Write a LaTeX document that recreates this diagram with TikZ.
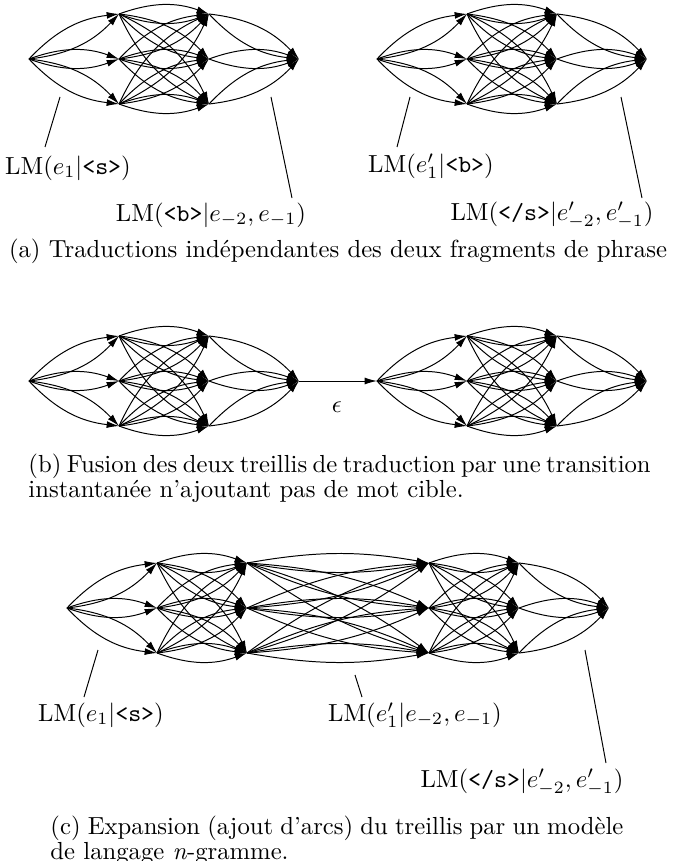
\documentclass[tikz,border=0pt]{standalone}
\usetikzlibrary{arrows.meta}
\tikzset{
  arc/.style={-{Latex[length=5pt,width=2.8pt]}, line width=0.4pt},
  lead/.style={line width=0.4pt},
  lab/.style={inner sep=0pt},
  capbox/.style={inner sep=0pt, align=left, anchor=north west, font=\fontsize{10}{10.4}\selectfont},
}
\newcommand{\dbl}[3]{\draw[arc] (#1) to[bend left=#3] (#2); \draw[arc] (#1) to[bend right=#3] (#2);}
\newcommand{\mylat}[3]{%
  \coordinate (#1s) at (#2,#3);
  \coordinate (#1e) at ({#2+270},#3);
  \foreach \i/\dy in {1/-45,2/0,3/45}{
    \coordinate (#1a\i) at ({#2+90},{#3+\dy});
    \coordinate (#1b\i) at ({#2+180},{#3+\dy});
  }
  \foreach \i in {1,2,3}{
    \dbl{#1s}{#1a\i}{20}
    \dbl{#1b\i}{#1e}{20}
    \foreach \j in {1,2,3}{\dbl{#1a\i}{#1b\j}{20}}
  }
}
\begin{document}
\begin{tikzpicture}[x=0.405pt,y=-0.405pt]
\useasboundingbox (0,0) rectangle (673,861);
% ---------- (a)
\mylat{L}{29}{59}
\mylat{R}{377}{59}
\node[lab] (a1) at (68,168) {$\mathrm{LM}(e_1|\mbox{\texttt{<s>}})$};
\node[lab] (a2) at (211,215) {$\mathrm{LM}(\mbox{\texttt{<b>}}|e_{-2},e_{-1})$};
\node[lab] (a3) at (431,166) {$\mathrm{LM}(e'_1|\mbox{\texttt{<b>}})$};
\node[lab] (a4) at (552,215) {$\mathrm{LM}(\mbox{\texttt{</s>}}|e'_{-2},e'_{-1})$};
\coordinate (pa1) at (60,97);  \coordinate (qa1) at (45,147);
\coordinate (pa2) at (271,97); \coordinate (qa2) at (292,198);
\coordinate (pa3) at (410,97); \coordinate (qa3) at (397,147);
\coordinate (pa4) at (621,97); \coordinate (qa4) at (642,198);
\draw[lead] (pa1) -- (qa1);
\draw[lead] (pa2) -- (qa2);
\draw[lead] (pa3) -- (qa3);
\draw[lead] (pa4) -- (qa4);
\node[lab] (capa) at (338,251) {(a) Traductions indépendantes des deux fragments de phrase};
% ---------- (b)
\mylat{P}{29}{381}
\mylat{Q}{377}{381}
\draw[arc] (Pe) -- (Qs);
\node[lab] (eps) at (337,407) {$\epsilon$};
\node[capbox] (capb) at (28,453) {\hbox to 252pt{(b) Fusion des deux treillis de traduction par une transition}\\instantanée n’ajoutant pas de mot cible.};
% ---------- (c)
\coordinate (Cs) at (67,608);
\coordinate (Ce) at (609,608);
\foreach \i/\dy in {1/-45,2/0,3/45}{
  \coordinate (Ca\i) at (157,{608+\dy});
  \coordinate (Cb\i) at (247,{608+\dy});
  \coordinate (Cc\i) at (429,{608+\dy});
  \coordinate (Cd\i) at (519,{608+\dy});
}
\foreach \i in {1,2,3}{
  \dbl{Cs}{Ca\i}{20}
  \dbl{Cd\i}{Ce}{20}
  \foreach \j in {1,2,3}{
    \dbl{Ca\i}{Cb\j}{20}
    \dbl{Cb\i}{Cc\j}{10}
    \dbl{Cc\i}{Cd\j}{20}
  }
}
\node[lab] (c1) at (101,715) {$\mathrm{LM}(e_1|\mbox{\texttt{<s>}})$};
\node[lab] (c2) at (415,715) {$\mathrm{LM}(e'_1|e_{-2},e_{-1})$};
\node[lab] (c3) at (522,782) {$\mathrm{LM}(\mbox{\texttt{</s>}}|e'_{-2},e'_{-1})$};
\coordinate (pc1) at (98,650);  \coordinate (qc1) at (84,697);
\coordinate (pc2) at (355,675); \coordinate (qc2) at (362,697);
\coordinate (pc3) at (585,650); \coordinate (qc3) at (606,763);
\draw[lead] (pc1) -- (qc1);
\draw[lead] (pc2) -- (qc2);
\draw[lead] (pc3) -- (qc3);
\node[capbox] (capc) at (50,815) {\hbox to 232pt{(c) Expansion (ajout d’arcs) du treillis par un modèle}\\de langage \emph{n}-gramme.};
\end{tikzpicture}
\end{document}
